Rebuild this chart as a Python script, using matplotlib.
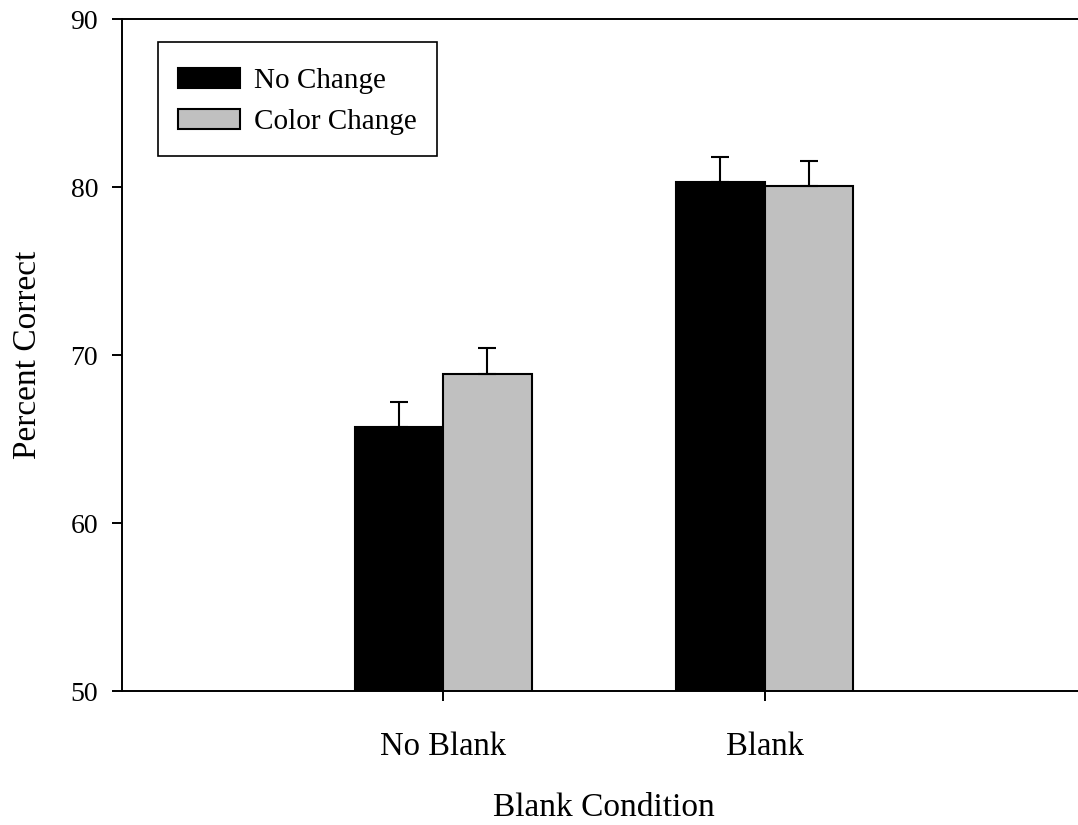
import numpy as np
import matplotlib.pyplot as plt
from matplotlib.patches import Patch, Rectangle
from matplotlib.legend_handler import HandlerPatch

plt.rcParams['font.family'] = ['Liberation Serif', 'DejaVu Serif']

# data
groups = ['No Blank', 'Blank']
no_change = [65.7, 80.3]
no_change_err = [1.5, 1.5]
color_change = [68.9, 80.05]
color_change_err = [1.5, 1.5]
series_names = ['No Change', 'Color Change']
yticks = [50, 60, 70, 80, 90]

fig = plt.figure(figsize=(10.78, 8.25), dpi=100)
# axes run past the right edge, like the original
ax = fig.add_axes([0.1132, 0.1624, 0.894, 0.8145])

x = np.arange(len(groups))
w = 0.275
err_kw = dict(elinewidth=1.5, capthick=1.5, capsize=6.8, ecolor='black')

ax.bar(x - w / 2, no_change, w, color='black', edgecolor='black', linewidth=1.5,
       yerr=[np.zeros(len(groups)), no_change_err], error_kw=err_kw, zorder=2)
ax.bar(x + w / 2, color_change, w, color='#c0c0c0', edgecolor='black', linewidth=1.5,
       yerr=[np.zeros(len(groups)), color_change_err], error_kw=err_kw, zorder=2)

ax.set_xlim(-1, 2)
ax.set_ylim(50, 90)
ax.set_yticks(yticks)
ax.set_xticks(x)
ax.set_xticklabels(groups)

ax.spines['right'].set_visible(False)
for s in ['left', 'bottom', 'top']:
    ax.spines[s].set_linewidth(1.4)

ax.tick_params(axis='both', direction='out', length=7.2, width=1.4)
ax.tick_params(axis='y', pad=10, labelsize=20)
ax.tick_params(axis='x', pad=22, labelsize=23.5)

ax.set_xlabel('Blank Condition', fontsize=24, labelpad=22)
ax.set_ylabel('Percent Correct', fontsize=24, labelpad=20)


# flat swatch, centred in a taller row
def swatch(legend, orig_handle, xdescent, ydescent, width, height, fontsize):
    hh = 14.4
    return Rectangle((-xdescent, -ydescent + (height - hh) / 2), width, hh)


handles = [Patch(facecolor='black', edgecolor='black', linewidth=1.5),
           Patch(facecolor='#c0c0c0', edgecolor='black', linewidth=1.5)]
leg = ax.legend(handles, series_names, loc='upper left', bbox_to_anchor=(0.0373, 0.9658),
                borderaxespad=0, fontsize=21, handlelength=2.14, handleheight=1.36,
                handletextpad=0.48, labelspacing=0.28, borderpad=0.68,
                handler_map={Patch: HandlerPatch(patch_func=swatch)},
                fancybox=False, framealpha=1, edgecolor='black')
leg.get_frame().set_linewidth(1.2)

fig.savefig('out.png', dpi=100)
